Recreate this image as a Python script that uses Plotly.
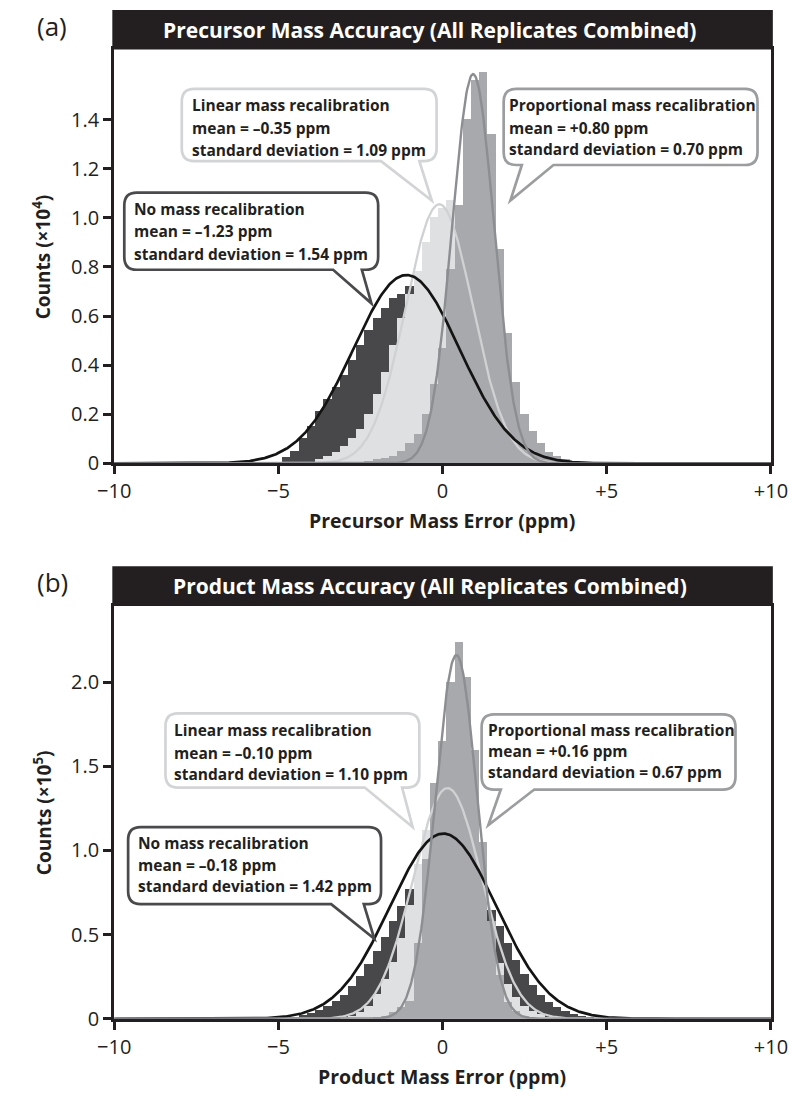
import numpy as np
import plotly.graph_objects as go

W, H = 809, 1098

# ---------------- data ----------------
BIN_W = 0.25
# Panel (a): precursor, counts x10^4 ; bins start + values
a_none_start = -4.75
a_none_vals = [0.025, 0.05, 0.10, 0.15, 0.21, 0.26, 0.31, 0.36, 0.42, 0.48, 0.54, 0.59, 0.63,
               0.67, 0.69, 0.72, 0.73, 0.72, 0.68, 0.62, 0.55, 0.46, 0.37, 0.29, 0.21, 0.15,
               0.10, 0.06, 0.035, 0.02, 0.01]
a_lin_start = -4.0
a_lin_vals = [0.005, 0.015, 0.03, 0.045, 0.07, 0.10, 0.14, 0.20, 0.28, 0.37, 0.48, 0.59, 0.69,
              0.78, 0.90, 1.00, 1.04, 1.07, 1.00, 0.85, 0.68, 0.50, 0.35, 0.22, 0.13, 0.07,
              0.04, 0.02, 0.01]
a_prop_start = -2.5
a_prop_vals = [0.005, 0.01, 0.015, 0.02, 0.03, 0.05, 0.08, 0.12, 0.20, 0.32, 0.47, 0.79, 1.05,
               1.40, 1.56, 1.59, 1.34, 0.87, 0.53, 0.33, 0.20, 0.13, 0.083, 0.043, 0.03, 0.016,
               0.005]
# fitted curves (center, sd, peak)
a_curves = {"none": (-1.1, 1.62, 0.767), "lin": (-0.1, 1.02, 1.055), "prop": (0.93, 0.64, 1.585)}

# Panel (b): product, counts x10^5
b_none_start = -4.5
b_none_vals = [0.014, 0.024, 0.036, 0.053, 0.076, 0.106, 0.145, 0.195, 0.255, 0.325, 0.405,
               0.49, 0.58, 0.67, 0.77, 0.87, 0.95, 1.02, 1.06, 1.07, 1.03, 0.95, 0.85, 0.74,
               0.65, 0.55, 0.45, 0.35, 0.27, 0.20, 0.14, 0.10, 0.07, 0.045, 0.03, 0.018, 0.01]
b_lin_start = -3.0
b_lin_vals = [0.01, 0.02, 0.04, 0.08, 0.15, 0.24, 0.34, 0.48, 0.68, 0.92, 1.12, 1.28, 1.37,
              1.38, 1.30, 1.12, 0.90, 0.70, 0.50, 0.33, 0.21, 0.13, 0.08, 0.05, 0.03, 0.015, 0.01]
b_prop_start = -2.0
b_prop_vals = [0.01, 0.02, 0.04, 0.07, 0.11, 0.45, 0.95, 1.40, 1.65, 2.00, 2.24, 2.03, 1.60,
               1.05, 0.58, 0.26, 0.10, 0.05, 0.02]
b_curves = {"none": (0.02, 1.62, 1.10), "lin": (0.15, 1.05, 1.37), "prop": (0.42, 0.64, 2.16)}

x_tickvals = [-10, -5, 0, 5, 10]
x_ticktext = ["\u221210", "\u22125", "0", "+5", "+10"]
a_ytickvals = [0, 0.2, 0.4, 0.6, 0.8, 1.0, 1.2, 1.4]
a_yticktext = ["0", "0.2", "0.4", "0.6", "0.8", "1.0", "1.2", "1.4"]
b_ytickvals = [0, 0.5, 1.0, 1.5, 2.0]
b_yticktext = ["0", "0.5", "1.0", "1.5", "2.0"]

a_labels = {
    "none": ["No mass recalibration", "mean = \u20131.23 ppm", "standard deviation = 1.54 ppm"],
    "lin": ["Linear mass recalibration", "mean = \u20130.35 ppm", "standard deviation = 1.09 ppm"],
    "prop": ["Proportional mass recalibration", "mean = +0.80 ppm", "standard deviation = 0.70 ppm"],
}
b_labels = {
    "none": ["No mass recalibration", "mean = \u20130.18 ppm", "standard deviation = 1.42 ppm"],
    "lin": ["Linear mass recalibration", "mean = \u20130.10 ppm", "standard deviation = 1.10 ppm"],
    "prop": ["Proportional mass recalibration", "mean = +0.16 ppm", "standard deviation = 0.67 ppm"],
}

# ---------------- style ----------------
FONT = "Open Sans"
TXT = "#231f20"
C_NONE, C_LIN, C_PROP = "#48484a", "#dfe0e2", "#a8a9ac"
L_NONE, L_LIN, L_PROP = "#141414", "#d0d1d3", "#8d8e91"
B_NONE, B_LIN, B_PROP = "#4a4a4c", "#d3d4d6", "#9c9d9f"

X0, X1 = 101.5, 787.0
PANEL = {
    "a": dict(top=50, bottom=469, yrange=(0, (469 - 50) / 248.6), bar=(10, 50)),
    "b": dict(top=613, bottom=1031, yrange=(0, (1031 - 613) / 170.4), bar=(573, 613)),
}


def px(x):
    return x / W


def py(y):
    return 1 - y / H


def centers(start, vals):
    return start + BIN_W * np.arange(len(vals))


def gauss(c, s, p):
    x = np.linspace(-10, 10, 801)
    return x, p * np.exp(-0.5 * ((x - c) / s) ** 2)


fig = go.Figure()

panels = [
    ("a", "x", "y", [(a_none_start, a_none_vals, C_NONE), (a_lin_start, a_lin_vals, C_LIN),
                     (a_prop_start, a_prop_vals, C_PROP)], a_curves),
    ("b", "x2", "y2", [(b_none_start, b_none_vals, C_NONE), (b_lin_start, b_lin_vals, C_LIN),
                       (b_prop_start, b_prop_vals, C_PROP)], b_curves),
]
for key, xa, ya, hists, curves in panels:
    for start, vals, col in hists:
        fig.add_trace(go.Bar(x=centers(start, vals), y=vals, width=BIN_W, marker_color=col,
                             marker_line_width=0, xaxis=xa, yaxis=ya, showlegend=False))
    for name, col, lw in [("lin", L_LIN, 2.3), ("none", L_NONE, 2.7), ("prop", L_PROP, 2.4)]:
        gx, gy = gauss(*curves[name])
        fig.add_trace(go.Scatter(x=gx, y=gy, mode="lines", line=dict(color=col, width=lw),
                                 xaxis=xa, yaxis=ya, showlegend=False, hoverinfo="skip"))

shapes = []
annotations = []


def ann(x, y, text, size, color=TXT, xanchor="center", angle=0):
    annotations.append(dict(x=px(x), y=py(y), xref="paper", yref="paper", text=text,
                            showarrow=False, xanchor=xanchor, yanchor="middle", textangle=angle,
                            font=dict(family=FONT, size=size, color=color)))


def callout(x0, y0, x1, y1, bx1, bx2, tx, ty, color, r=13):
    pts = [("M", (x0 + r, y0)), ("L", (x1 - r, y0)), ("Q", (x1, y0), (x1, y0 + r)),
           ("L", (x1, y1 - r)), ("Q", (x1, y1), (x1 - r, y1)), ("L", (bx2, y1)),
           ("L", (tx, ty)), ("L", (bx1, y1)), ("L", (x0 + r, y1)),
           ("Q", (x0, y1), (x0, y1 - r)), ("L", (x0, y0 + r)), ("Q", (x0, y0), (x0 + r, y0))]
    s = ""
    for item in pts:
        cmd = item[0]
        coords = " ".join(f"{px(p[0]):.5f},{py(p[1]):.5f}" for p in item[1:])
        s += f"{cmd} {coords} "
    s += "Z"
    shapes.append(dict(type="path", path=s, xref="paper", yref="paper", fillcolor="white",
                       line=dict(color=color, width=2.7), layer="above"))


def text_lines(x, ys, lines, size=15.5):
    for yy, t in zip(ys, lines):
        ann(x, yy, f"<b>{t}</b>", size, xanchor="left")


# callouts panel a
callout(112, 195, 377, 273, 330, 360, 370, 307, B_NONE)
text_lines(120.5, [211.7, 234, 256.7], a_labels["none"])
callout(172, 90, 438, 163, 380, 420, 433, 203, B_LIN)
text_lines(180.5, [106.7, 129.3, 151.7], a_labels["lin"])
callout(508, 90, 773, 167, 527, 560, 515, 203, B_PROP)
text_lines(511.5, [106.7, 130, 150.7], a_labels["prop"])
# callouts panel b
callout(155, 722, 420, 797, 363, 402, 413, 837, B_LIN)
text_lines(162, [739, 761.7, 783.3], b_labels["lin"])
callout(116, 837, 380, 915, 328, 362, 373, 950, B_NONE)
text_lines(124, [853.3, 875, 896.7], b_labels["none"])
callout(485, 723, 750, 799, 505, 540, 492, 835, B_PROP)
text_lines(489.5, [738.3, 760, 781.7], b_labels["prop"])

# title bars, panel letters, axis titles
titles = {"a": "Precursor Mass Accuracy (All Replicates Combined)",
          "b": "Product Mass Accuracy (All Replicates Combined)"}
xtitles = {"a": "Precursor Mass Error (ppm)", "b": "Product Mass Error (ppm)"}
ytitles = {"a": "Counts (\u00d710<sup>4</sup>)", "b": "Counts (\u00d710<sup>5</sup>)"}
for key, P in PANEL.items():
    b0, b1 = P["bar"]
    shapes.append(dict(type="rect", xref="paper", yref="paper", x0=px(99.5), x1=px(789),
                       y0=py(b1), y1=py(b0), fillcolor="#231f20", line=dict(width=0), layer="above"))
    ann(431, (b0 + b1) / 2, f"<b>{titles[key]}</b>", 21, color="white")
    ann(19, (b0 + b1) / 2 - 4, f"({key})", 26, xanchor="left")
    ann(444, P["bottom"] + 58, f"<b>{xtitles[key]}</b>", 19.5)
    ann(27, (P["top"] + P["bottom"]) / 2, f"<b>{ytitles[key]}</b>", 19, angle=-90)

axis_common = dict(showgrid=False, zeroline=False, showline=True, linecolor="#231f20",
                   linewidth=3, mirror=True, ticks="outside", ticklen=8, tickwidth=3,
                   tickcolor="#231f20", tickfont=dict(family=FONT, size=20, color=TXT))

fig.update_layout(
    width=W, height=H, margin=dict(l=0, r=0, t=0, b=0), paper_bgcolor="white",
    plot_bgcolor="white", barmode="overlay", bargap=0, showlegend=False,
    shapes=shapes, annotations=annotations,
    xaxis=dict(domain=[px(X0), px(X1)], range=[-10, 10], tickvals=x_tickvals, ticktext=x_ticktext,
               anchor="y", **axis_common),
    yaxis=dict(domain=[py(PANEL["a"]["bottom"]), py(PANEL["a"]["top"])], range=PANEL["a"]["yrange"],
               tickvals=a_ytickvals, ticktext=a_yticktext, anchor="x", **axis_common),
    xaxis2=dict(domain=[px(X0), px(X1)], range=[-10, 10], tickvals=x_tickvals, ticktext=x_ticktext,
                anchor="y2", **axis_common),
    yaxis2=dict(domain=[py(PANEL["b"]["bottom"]), py(PANEL["b"]["top"])], range=PANEL["b"]["yrange"],
                tickvals=b_ytickvals, ticktext=b_yticktext, anchor="x2", **axis_common),
)

fig.write_html("out.html")
